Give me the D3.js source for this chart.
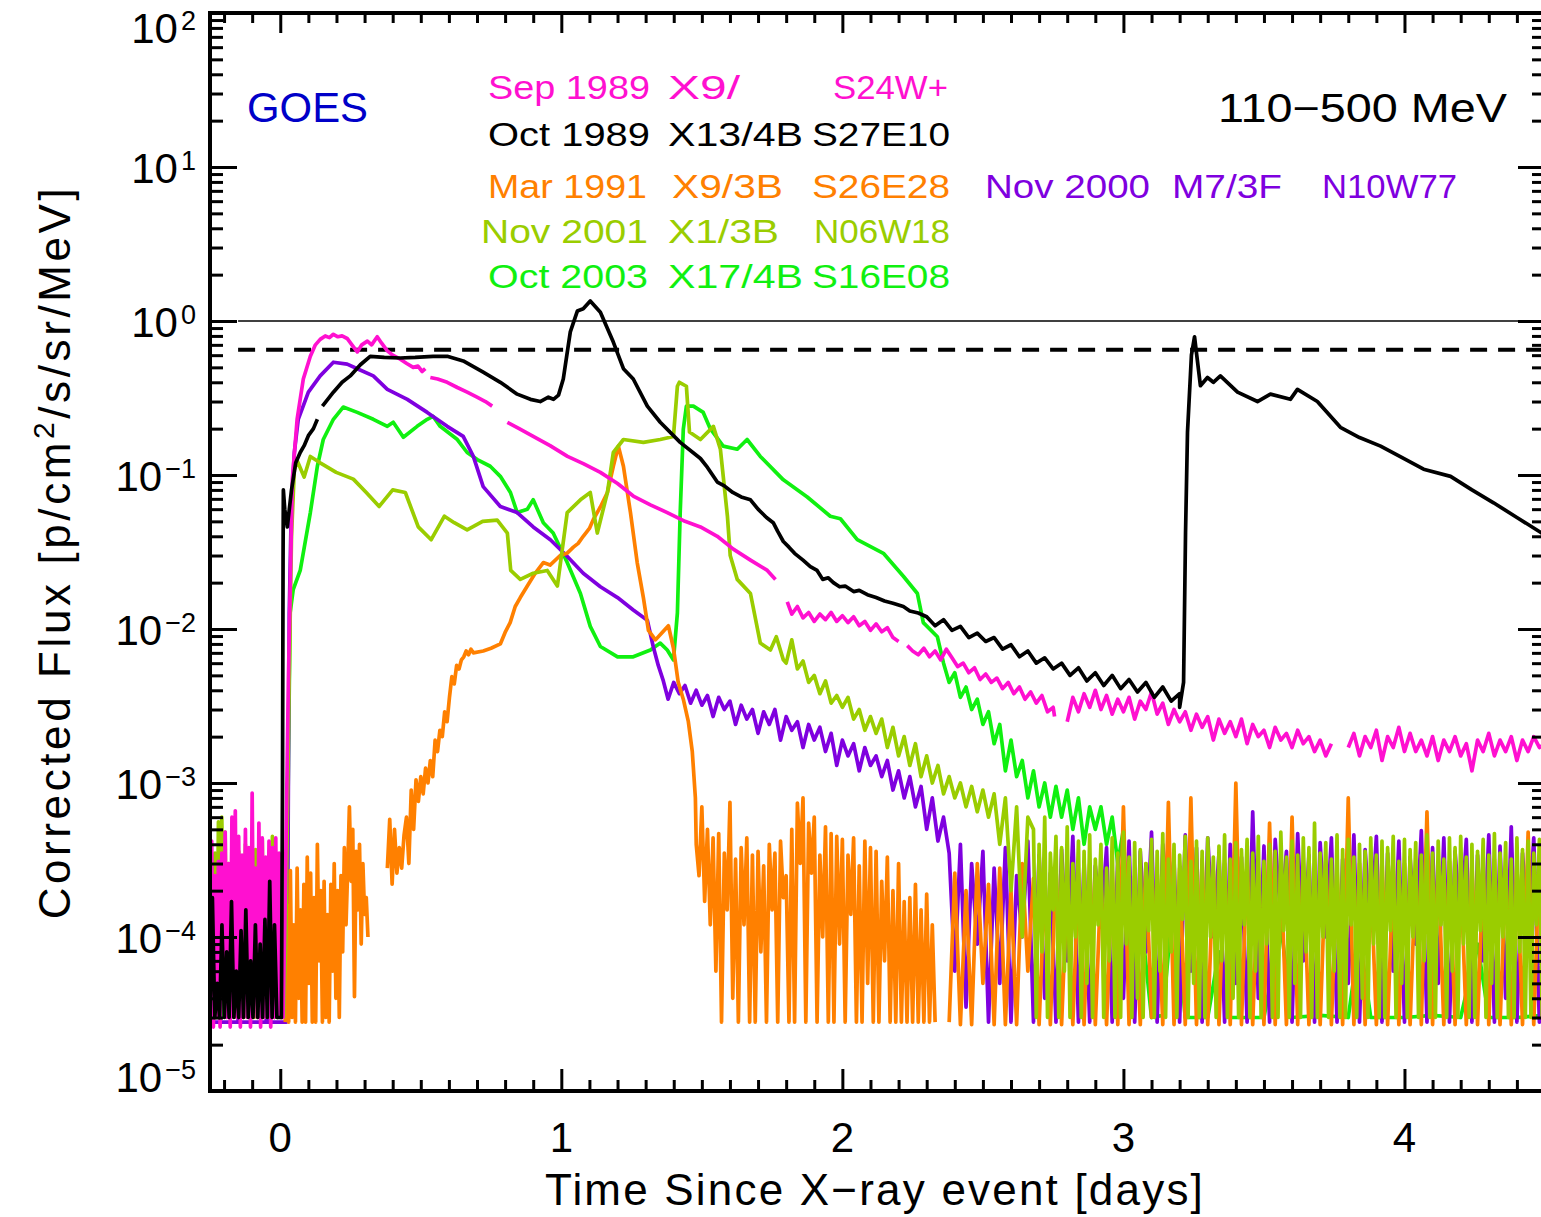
<!DOCTYPE html>
<html>
<head>
<meta charset="utf-8">
<script src="https://cdn.jsdelivr.net/npm/d3@7"></script>
<style>
  body { margin: 0; background: #fff; }
  text { font-family: "Liberation Sans", Arial, sans-serif; }
</style>
</head>
<body>
<div id="container"></div>
<script>
//軸の目盛り
var xTicks = [0, 1, 2, 3, 4];
var yTicks = [1e-5, 1e-4, 1e-3, 1e-2, 1e-1, 1, 10, 100];
var yExp = ["\u22125", "\u22124", "\u22123", "\u22122", "\u22121", "0", "1", "2"];

//基準レベル
var solidLevel = 1.0;
var dashLevel = 0.65;

//イベント名
var eventNames = ["Sep 1989", "Oct 1989", "Mar 1991", "Nov 2000", "Nov 2001", "Oct 2003"];
var flareClass = ["X9/", "X13/4B", "X9/3B", "M7/3F", "X1/3B", "X17/4B"];
var flareLoc = ["S24W+", "S27E10", "S26E28", "N10W77", "N06W18", "S16E08"];
var colors = ["#ff10d0", "#000000", "#ff8000", "#7f00df", "#9acd00", "#10f010"];

//等間隔サンプリングの区間
function grid(t0, dt, vals) {
  return vals.map(function(v, i) {
    return [+(t0 + i * dt).toFixed(4), v];
  });
}

// Sep 1989 (segments split at data gaps)
var sep89 = [
  grid(-0.25, 0.006, [3e-5, 4.2e-4, 2.6e-5, 2.5e-4, 3e-5, 3.1e-4, 2.6e-5, 3.5e-4, 4e-5, 4.8e-4, 3e-5, 3e-4, 2.6e-5, 6e-4, 5e-5, 6.6e-4, 3e-5, 4.5e-4, 2.6e-5, 3.4e-4, 6e-5, 5e-4, 3e-5, 3.8e-4, 2.6e-5, 8.6e-4, 4e-5, 2.8e-4, 3e-5, 5.5e-4, 2.6e-5, 4.4e-4, 3e-5, 3.3e-4, 5e-5, 4.2e-4, 2.6e-5, 3.8e-4, 3e-5, 4.4e-4, 3e-5, 3.5e-4, 3e-5])
    .concat([[0.01, 3e-5], [0.018, 2e-4], [0.029, 0.0047], [0.043, 0.094], [0.06, 0.23], [0.082, 0.42], [0.107, 0.59], [0.125, 0.7], [0.142, 0.76], [0.16, 0.8], [0.175, 0.78], [0.189, 0.82], [0.205, 0.79], [0.22, 0.8], [0.238, 0.77], [0.255, 0.7], [0.274, 0.63], [0.29, 0.7], [0.31, 0.74], [0.325, 0.7], [0.345, 0.79], [0.36, 0.72], [0.381, 0.64], [0.4, 0.6], [0.427, 0.565], [0.45, 0.53], [0.473, 0.5], [0.49, 0.51], [0.505, 0.47], [0.516, 0.49]]),
  [[0.534, 0.43], [0.56, 0.42], [0.594, 0.4], [0.63, 0.37], [0.665, 0.345], [0.7, 0.32], [0.73, 0.3], [0.754, 0.28]],
  [[0.808, 0.22], [0.85, 0.2], [0.9, 0.178], [0.96, 0.155], [1.022, 0.132], [1.08, 0.118], [1.139, 0.104], [1.2, 0.088], [1.256, 0.073], [1.317, 0.064], [1.377, 0.057], [1.44, 0.05], [1.495, 0.046], [1.555, 0.04], [1.612, 0.033], [1.673, 0.028], [1.733, 0.024], [1.762, 0.021]],
  [[1.804, 0.015], [1.82, 0.0125], [1.84, 0.014], [1.86, 0.0118], [1.88, 0.0128], [1.9, 0.0112], [1.92, 0.0125], [1.94, 0.0115], [1.96, 0.0128], [1.98, 0.0112], [2.0, 0.0122], [2.02, 0.011], [2.04, 0.012], [2.06, 0.0105], [2.08, 0.0112], [2.1, 0.0098], [2.12, 0.0108], [2.14, 0.0096], [2.16, 0.0102], [2.18, 0.0088], [2.2, 0.0083]],
  [[2.231, 0.0078], [2.25, 0.0072], [2.27, 0.0068], [2.29, 0.0075], [2.31, 0.0066], [2.33, 0.0072], [2.35, 0.0063], [2.37, 0.0074], [2.39, 0.0065], [2.41, 0.0057], [2.43, 0.006], [2.45, 0.0052], [2.47, 0.0056], [2.49, 0.0047], [2.51, 0.0051], [2.53, 0.0045], [2.55, 0.0048], [2.57, 0.0041], [2.59, 0.0045], [2.61, 0.0038], [2.63, 0.0042], [2.65, 0.0035], [2.67, 0.0039], [2.69, 0.0033], [2.71, 0.0037], [2.73, 0.0029], [2.75, 0.0031], [2.755, 0.0027]],
  grid(2.80, 0.02, [0.0025, 0.0036, 0.0029, 0.0038, 0.0031, 0.0040, 0.0030, 0.0037, 0.0028, 0.0035, 0.0029, 0.0036, 0.0026, 0.0034, 0.0030, 0.0039, 0.0028, 0.0033, 0.0024, 0.0030, 0.0025, 0.0029, 0.0022, 0.0028, 0.0023, 0.0027, 0.0019, 0.0026, 0.0021, 0.0025, 0.0020, 0.0026, 0.0018, 0.0024, 0.0020, 0.0022, 0.0017, 0.0023, 0.0019, 0.0021, 0.0017, 0.0022, 0.0018, 0.0020, 0.0016, 0.0019, 0.0015, 0.0018]),
  grid(3.80, 0.02, [0.0017, 0.0021, 0.0015, 0.0020, 0.0017, 0.0022, 0.0014, 0.0020, 0.0017, 0.0023, 0.0016, 0.0021, 0.0016, 0.0019, 0.0015, 0.0020, 0.0014, 0.0019, 0.0016, 0.0020, 0.0015, 0.0018, 0.0012, 0.0019, 0.0016, 0.0021, 0.0015, 0.0019, 0.0016, 0.0020, 0.0014, 0.0019, 0.0016, 0.0020, 0.0017, 0.0018])
];

// Oct 1989
var oct89 = [
  grid(-0.25, 0.0085, [3e-5, 1.8e-4, 3e-5, 5e-5, 3e-5, 1.2e-4, 3e-5, 8e-5, 3e-5, 1.7e-4, 3e-5, 6e-5, 3e-5, 1.1e-4, 3e-5, 1.5e-4, 3e-5, 7e-5, 3e-5, 1.2e-4, 3e-5, 9e-5, 3e-5, 1.3e-4, 3e-5, 2.3e-4, 3e-5, 1.2e-4, 3e-5, 3e-5])
    .concat([[0.004, 3e-5], [0.008, 1e-3], [0.01, 0.03], [0.011, 0.08], [0.016, 0.06], [0.025, 0.046], [0.04, 0.08], [0.055, 0.12], [0.071, 0.14], [0.085, 0.155], [0.1, 0.18], [0.118, 0.2], [0.132, 0.23]]),
  [[0.15, 0.28], [0.189, 0.345], [0.22, 0.4], [0.249, 0.44], [0.285, 0.52], [0.32, 0.59], [0.37, 0.58], [0.427, 0.575], [0.48, 0.58], [0.544, 0.59], [0.594, 0.59], [0.651, 0.55], [0.722, 0.465], [0.783, 0.4], [0.843, 0.335], [0.89, 0.31], [0.925, 0.3], [0.954, 0.32], [0.972, 0.31], [0.99, 0.33], [1.007, 0.42], [1.032, 0.85], [1.057, 1.16], [1.078, 1.2], [1.103, 1.35], [1.139, 1.14], [1.185, 0.73], [1.221, 0.49], [1.256, 0.42], [1.306, 0.28], [1.352, 0.22], [1.423, 0.163], [1.495, 0.128], [1.52, 0.112], [1.555, 0.09], [1.58, 0.085], [1.61, 0.077], [1.64, 0.072], [1.673, 0.069], [1.7, 0.06], [1.73, 0.053], [1.754, 0.049], [1.77, 0.043], [1.79, 0.037], [1.81, 0.034], [1.83, 0.031], [1.86, 0.028], [1.886, 0.0254], [1.91, 0.024], [1.93, 0.021], [1.95, 0.0215], [1.968, 0.02], [1.99, 0.0188], [2.01, 0.019], [2.04, 0.0175], [2.06, 0.0178], [2.089, 0.0167], [2.12, 0.016], [2.15, 0.0152], [2.18, 0.0147], [2.217, 0.014], [2.24, 0.0131], [2.27, 0.0127]]
    .concat(grid(2.30, 0.03, [0.012, 0.0105, 0.0115, 0.0098, 0.0104, 0.0088, 0.0094, 0.0083, 0.0088, 0.0074, 0.0079, 0.0066, 0.0072, 0.006, 0.0065, 0.0055, 0.006, 0.005, 0.0056, 0.0046, 0.0052, 0.0043, 0.005, 0.0041, 0.0047, 0.0039, 0.0045, 0.0036, 0.0042, 0.0034, 0.0038]))
    .concat([[3.2, 0.0031], [3.214, 0.0045], [3.221, 0.042], [3.228, 0.19], [3.242, 0.6], [3.253, 0.79], [3.274, 0.38], [3.299, 0.43], [3.32, 0.4], [3.345, 0.44], [3.406, 0.345], [3.477, 0.3], [3.523, 0.335], [3.594, 0.31], [3.619, 0.36], [3.69, 0.3], [3.772, 0.204], [3.84, 0.175], [3.915, 0.154], [3.99, 0.13], [4.068, 0.109], [4.164, 0.098], [4.24, 0.08], [4.317, 0.066], [4.4, 0.053], [4.488, 0.042], [4.5, 0.04]])
];

// Mar 1991
var mar91 = [
  grid(0.018, 0.006, [2.8e-5, 1.6e-4, 2.8e-5, 2.7e-4, 3e-5, 1.2e-4, 2.8e-5, 2.8e-4, 4e-5, 1.5e-4, 2.8e-5, 2.2e-4, 2.8e-5, 3.3e-4, 5e-5, 2.6e-4, 2.8e-5, 1.8e-4, 2.8e-5, 4e-4, 7e-5, 2e-4, 2.8e-5, 2.3e-4, 3e-5, 1.4e-4, 2.8e-5, 2.2e-4, 6e-5, 3e-4, 4e-5, 2e-4, 3e-5, 2.5e-4, 8e-5, 3.8e-4, 1.2e-4, 2.8e-4, 7e-4, 2.3e-4, 5e-4, 4.1e-5, 3.6e-4, 1.5e-4, 4e-4, 9e-5, 3e-4, 1.4e-4, 1.8e-4, 1e-4]),
  grid(0.381, 0.0085, [2.8e-4, 5.8e-4, 2.2e-4, 5e-4, 2.6e-4, 3.8e-4, 2.8e-4, 4.6e-4, 6e-4, 3e-4, 9e-4, 5e-4, 1.05e-3, 7.6e-4, 1.1e-3, 8.5e-4, 1.25e-3, 1e-3, 1.4e-3, 1.1e-3, 1.9e-3, 1.6e-3, 2.2e-3, 2e-3, 2.9e-3, 2.5e-3, 3.6e-3, 4.9e-3, 4.4e-3, 5.8e-3, 5.5e-3, 6.3e-3, 6.6e-3, 7.2e-3, 6.8e-3, 7.4e-3, 7e-3])
    .concat([[0.722, 0.0072], [0.75, 0.0075], [0.783, 0.008], [0.8, 0.0095], [0.818, 0.011], [0.836, 0.014], [0.854, 0.016], [0.879, 0.019], [0.907, 0.023], [0.936, 0.027], [0.96, 0.026], [0.996, 0.03], [1.02, 0.031], [1.043, 0.034], [1.06, 0.036], [1.078, 0.04], [1.1, 0.045], [1.114, 0.0515], [1.139, 0.062], [1.164, 0.077], [1.185, 0.114], [1.203, 0.154], [1.221, 0.114], [1.246, 0.057], [1.27, 0.027], [1.292, 0.016], [1.31, 0.0098], [1.335, 0.0085], [1.359, 0.0095], [1.381, 0.0105], [1.399, 0.0075], [1.416, 0.0045], [1.434, 0.0035], [1.452, 0.0025], [1.466, 0.0016], [1.477, 8e-4]])
    .concat(grid(1.48, 0.01, [4e-4, 2.5e-4, 7e-4, 1.7e-4, 5e-4, 1.2e-4, 4.4e-4, 6e-5, 4.7e-4, 2.8e-5, 3.5e-4, 1.5e-4, 7.5e-4, 4e-5, 3.2e-4, 2.8e-5, 3.8e-4, 1.2e-4, 4.4e-4, 2.8e-5, 3.4e-4, 2.8e-5, 3.6e-4, 8e-5, 2.9e-4, 2.8e-5, 4e-4, 1.5e-4, 3.5e-4, 2.8e-5, 4.2e-4, 1.8e-4, 2.5e-4, 2.8e-5, 5e-4, 2.8e-5, 7.4e-4, 3e-4, 8e-4, 2.8e-5, 5.5e-4, 2.6e-4, 6e-4, 2.8e-5, 3.4e-4, 1e-4, 5.2e-4, 2.8e-5, 4.7e-4, 2.8e-5, 4.5e-4, 9e-5, 4.3e-4, 2.8e-5, 3.4e-4, 1.4e-4, 4.4e-4, 2.8e-5, 2.9e-4, 2.8e-5, 4.2e-4, 5e-5, 3.8e-4, 2.8e-5, 3.6e-4, 2.8e-5, 2.3e-4, 7e-5, 3.3e-4, 2.8e-5, 2e-4, 2.8e-5, 3e-4, 2.8e-5, 1.7e-4, 2.8e-5, 1.8e-4, 2.8e-5, 2.2e-4, 2.8e-5, 1.5e-4, 2.8e-5, 1.9e-4, 2.8e-5, 1.2e-4, 2.8e-5])),
  grid(2.38, 0.02, [2.8e-5, 2.6e-4, 2.7e-5, 2e-4, 2.7e-5, 3e-4, 5e-5, 2.2e-4, 2.7e-5, 2.8e-4, 2.7e-5, 2e-4, 2.7e-5, 3e-4, 6e-5, 2.4e-4, 2.7e-5, 2.2e-4, 2.7e-5, 2.8e-4, 2.7e-5, 2.2e-4, 2.7e-5, 2.6e-4, 2.7e-5, 3e-4, 2.7e-5, 2.3e-4, 2.7e-5, 2.7e-4, 2.7e-5, 7e-4, 2.7e-5, 2.5e-4, 2.7e-5, 3e-4, 3e-5, 2.6e-4, 2.7e-5, 7.5e-4, 2.7e-5, 2.8e-4, 2.7e-5, 8e-4, 2.7e-5, 3.2e-4, 2.7e-5, 2.7e-4, 2.7e-5, 3e-4, 2.7e-5, 1e-3, 2.7e-5, 3.2e-4, 2.7e-5, 2.8e-4, 2.7e-5, 5.5e-4, 2.7e-5, 2.9e-4, 2.7e-5, 6e-4, 2.7e-5, 3e-4, 2.7e-5, 2.6e-4, 2.7e-5, 3.1e-4, 2.7e-5, 2.8e-4, 2.7e-5, 8e-4, 2.7e-5, 3e-4, 2.7e-5, 2.6e-4, 2.7e-5, 3.2e-4, 2.7e-5, 2.7e-4, 2.7e-5, 3e-4, 2.7e-5, 2.8e-4, 2.7e-5, 6.5e-4, 2.7e-5, 2.9e-4, 2.7e-5, 3.1e-4, 2.7e-5, 2.6e-4, 2.7e-5, 3e-4, 2.7e-5, 2.8e-4, 2.7e-5, 3.2e-4, 2.7e-5, 2.7e-4, 2.7e-5, 3e-4, 2.7e-5, 4.8e-4, 2.7e-5, 3.3e-4, 2.7e-5])
];

// Nov 2000
var nov00 = [
  [[-0.25, 2.8e-5], [-0.15, 2.8e-5], [-0.148, 9e-5], [-0.146, 2.8e-5], [-0.05, 2.8e-5], [-0.048, 1.2e-4], [-0.046, 2.8e-5], [0.022, 2.8e-5], [0.026, 1e-4], [0.032, 0.0127], [0.039, 0.057], [0.05, 0.14], [0.064, 0.23], [0.1, 0.345], [0.142, 0.44], [0.189, 0.54], [0.238, 0.525], [0.274, 0.49], [0.331, 0.44], [0.381, 0.36], [0.452, 0.31], [0.523, 0.255], [0.594, 0.207], [0.651, 0.178], [0.687, 0.132], [0.722, 0.084], [0.783, 0.0625], [0.843, 0.057], [0.9, 0.046], [0.961, 0.038], [1.018, 0.03], [1.078, 0.023], [1.139, 0.0188], [1.2, 0.016], [1.256, 0.0133], [1.306, 0.0114], [1.327, 0.0077], [1.345, 0.0058], [1.363, 0.0046]]
    .concat(grid(1.38, 0.02, [0.0035, 0.0045, 0.0038, 0.0043, 0.0033, 0.004, 0.0032, 0.0037, 0.0027, 0.0036, 0.003, 0.0034, 0.0024, 0.0032, 0.0026, 0.003, 0.0021, 0.0029, 0.0024, 0.003, 0.0019, 0.0027, 0.0022, 0.0025, 0.0017, 0.0024, 0.0019, 0.0023, 0.0016, 0.0021, 0.0013, 0.0019, 0.0015, 0.0018, 0.0012, 0.0017, 0.0013, 0.0015, 0.0011, 0.0014, 0.0009, 0.0012, 0.0008, 0.0011, 0.0007, 0.00095, 0.0005, 0.0008, 0.00042, 0.0006]))
    .concat(grid(2.38, 0.02, [3.5e-4, 6e-5, 4e-4, 3.5e-5, 3e-4, 9e-5, 3.6e-4, 2.8e-5, 2.8e-4, 5e-5, 3.8e-4, 2.8e-5, 2.5e-4, 1e-4, 4.2e-4, 2.8e-5, 3.4e-4, 4e-5, 2.6e-4, 2.8e-5, 3.7e-4, 7e-5, 4.5e-4, 2.8e-5, 3.1e-4, 2.8e-5, 2.9e-4, 1.2e-4, 3.8e-4, 2.8e-5, 3.3e-4, 4e-5, 4.2e-4, 2.8e-5, 3.6e-4, 8e-5, 4.8e-4, 2.8e-5, 4e-4, 1.5e-4, 3.2e-4, 2.8e-5, 4.6e-4, 6e-5, 3.8e-4, 2.8e-5, 4.4e-4, 1e-4, 3.5e-4, 2.8e-5, 4e-4, 5e-5, 3.3e-4, 2.8e-5, 6.5e-4, 4e-5, 3.9e-4, 2.8e-5, 4.3e-4, 1.3e-4, 3.6e-4, 2.8e-5, 4.7e-4, 7e-5, 3.4e-4, 2.8e-5, 4.1e-4, 1e-4, 4.4e-4, 2.8e-5, 3.2e-4, 5e-5, 4.6e-4, 2.8e-5, 3.7e-4, 1.1e-4, 4.5e-4, 2.8e-5, 3.5e-4, 6e-5, 4.2e-4, 2.8e-5, 3.3e-4, 9e-5, 4.9e-4, 2.8e-5, 3.8e-4, 5e-5, 4.4e-4, 2.8e-5, 3.6e-4, 1.2e-4, 4.3e-4, 2.8e-5, 3.4e-4, 7e-5, 4.6e-4, 2.8e-5, 3.9e-4, 4e-5, 5.2e-4, 2.8e-5, 3.5e-4, 1e-4, 4.4e-4, 2.8e-5, 3.2e-4]))
];

// Nov 2001
var nov01 = [
  grid(-0.25, 0.006, [3e-5, 2.5e-4, 3e-5, 3.5e-4, 4e-5, 5.6e-4, 3e-5, 6e-4, 1e-4, 4.8e-4, 3e-5, 3e-4, 3e-5, 4.2e-4, 6e-5, 2.7e-4, 3e-5, 3.6e-4, 3e-5, 2.2e-4, 3e-5, 4e-4, 7e-5, 3.2e-4, 3e-5, 2.6e-4, 3e-5, 3.7e-4, 3e-5, 3e-4, 5e-5, 4.3e-4, 3e-5, 2.4e-4, 3e-5, 3.6e-4, 3e-5, 4.5e-4, 3e-5, 3.5e-4, 3e-5, 2.6e-4, 3e-5])
    .concat([[0.012, 3e-5], [0.02, 1e-4], [0.03, 3e-3], [0.04, 0.04], [0.05, 0.108], [0.061, 0.123], [0.085, 0.097], [0.107, 0.132], [0.142, 0.12], [0.199, 0.104], [0.26, 0.094], [0.306, 0.077], [0.352, 0.0625], [0.4, 0.08], [0.445, 0.077], [0.491, 0.046], [0.537, 0.038], [0.584, 0.054], [0.619, 0.049], [0.665, 0.044], [0.72, 0.05], [0.772, 0.051], [0.808, 0.042], [0.82, 0.024], [0.854, 0.021], [0.9, 0.023], [0.95, 0.024], [0.986, 0.019], [1.021, 0.057], [1.068, 0.069], [1.103, 0.077], [1.128, 0.042], [1.164, 0.077], [1.185, 0.14], [1.221, 0.17], [1.292, 0.163], [1.352, 0.17], [1.399, 0.178], [1.413, 0.377], [1.42, 0.4], [1.445, 0.377], [1.456, 0.19], [1.495, 0.17], [1.541, 0.207], [1.566, 0.147], [1.591, 0.054], [1.601, 0.03], [1.626, 0.021], [1.673, 0.017], [1.708, 0.0081], [1.744, 0.0073], [1.765, 0.0089], [1.79, 0.0063]])
    .concat(grid(1.80, 0.02, [0.006, 0.0085, 0.0055, 0.0062, 0.0045, 0.005, 0.0038, 0.0046, 0.0033, 0.0037, 0.0031, 0.0036, 0.0026, 0.003, 0.0022, 0.0027, 0.0021, 0.0026, 0.0017, 0.0023, 0.0015, 0.002, 0.0013, 0.0018, 0.0011, 0.0015, 0.001, 0.0013, 0.00085, 0.0011, 0.0008, 0.001, 0.0007, 0.00095, 0.00065, 0.0009, 0.0006, 0.00085, 0.0004, 0.0008, 0.0002, 0.0007, 0.0001, 0.0006]))
    .concat(grid(2.68, 0.01, [5e-4, 3e-5, 4e-4, 8e-5, 6e-4, 3e-5, 3.5e-4, 1.5e-4, 4.5e-4, 3e-5,
      3.8e-4, 6e-5, 5.2e-4, 3e-5, 3e-4, 1e-4, 4.2e-4, 3e-5, 3.6e-4, 5e-5,
      4.6e-4, 3e-5, 3.2e-4, 1.2e-4, 4e-4, 3e-5, 2.8e-4, 7e-5, 4.4e-4, 3e-5,
      3.5e-4, 3e-5, 4.8e-4, 9e-5, 3.3e-4, 3e-5, 4.1e-4, 4e-5, 3.7e-4, 3e-5,
      3e-4, 1.1e-4, 4.3e-4, 3e-5, 3.6e-4, 6e-5, 4.7e-4, 3e-5, 3.2e-4, 8e-5,
      4e-4, 3e-5, 3.4e-4, 1.3e-4, 4.5e-4, 3e-5, 3.1e-4, 5e-5, 4.2e-4, 3e-5,
      3.6e-4, 3e-5, 4.4e-4, 1e-4, 3.3e-4, 3e-5, 3.9e-4, 7e-5, 4.6e-4, 3e-5,
      3.2e-4, 4e-5, 4.1e-4, 3e-5, 3.7e-4, 1.2e-4, 4.3e-4, 3e-5, 3.5e-4, 6e-5,
      4.5e-4, 3e-5, 3.1e-4, 9e-5, 4e-4, 3e-5, 3.6e-4, 3e-5, 4.8e-4, 1.1e-4,
      3.3e-4, 3e-5, 4.2e-4, 5e-5, 3.4e-4, 3e-5, 4.4e-4, 8e-5, 3.8e-4, 3e-5,
      5.5e-4, 3e-5, 3.5e-4, 1e-4, 4.1e-4, 3e-5, 3.2e-4, 6e-5, 4.6e-4, 3e-5,
      3.7e-4, 3e-5, 4.3e-4, 1.2e-4, 3.3e-4, 3e-5, 4e-4, 4e-5, 3.6e-4, 3e-5,
      4.4e-4, 9e-5, 3.4e-4, 3e-5, 4.2e-4, 3e-5, 3.8e-4, 1.1e-4, 4.5e-4, 3e-5,
      3.1e-4, 5e-5, 4.3e-4, 3e-5, 3.7e-4, 1e-4, 4.1e-4, 3e-5, 3.4e-4, 7e-5,
      4.6e-4, 3e-5, 3.5e-4, 3e-5, 4.2e-4, 1.2e-4, 3.2e-4, 3e-5, 4.4e-4, 6e-5,
      3.8e-4, 3e-5, 4.5e-4, 9e-5, 3.3e-4, 3e-5, 4e-4, 3e-5, 3.6e-4, 1.1e-4,
      4.3e-4, 3e-5, 3.4e-4, 5e-5, 4.7e-4, 3e-5, 3.5e-4, 1e-4, 4.1e-4, 3e-5,
      3.2e-4, 3e-5, 4.4e-4, 8e-5, 3.7e-4, 3e-5, 4.2e-4, 3e-5, 3.5e-4, 1.2e-4,
      4.3e-4, 3e-5, 3.8e-4]))
];

// Oct 2003
var oct03 = [
  [[-0.25, 3e-5], [-0.243, 2.5e-4], [-0.237, 3e-5], [-0.23, 3.2e-4], [-0.222, 5e-5], [-0.215, 2e-4], [-0.205, 3e-5], [-0.19, 1.5e-4], [-0.175, 3e-5], [-0.16, 2e-4], [-0.14, 3e-5], [-0.12, 1.8e-4], [-0.1, 3e-5], [-0.08, 2.2e-4], [-0.06, 3e-5], [-0.04, 1.6e-4], [-0.02, 3e-5], [0.0, 1.5e-4], [0.015, 3e-5], [0.025, 3e-4], [0.035, 0.0127], [0.046, 0.018], [0.071, 0.024], [0.107, 0.057], [0.132, 0.114], [0.153, 0.17], [0.189, 0.23], [0.224, 0.276], [0.274, 0.255], [0.331, 0.23], [0.381, 0.207], [0.402, 0.22], [0.438, 0.176], [0.487, 0.207], [0.523, 0.23], [0.544, 0.24], [0.569, 0.207], [0.63, 0.17], [0.665, 0.14], [0.701, 0.126], [0.747, 0.114], [0.783, 0.098], [0.819, 0.077], [0.843, 0.057], [0.879, 0.06], [0.9, 0.069], [0.936, 0.049], [0.971, 0.042], [1.021, 0.027], [1.068, 0.017], [1.103, 0.0104], [1.139, 0.0077], [1.2, 0.0066], [1.256, 0.0066], [1.317, 0.0073], [1.352, 0.0081], [1.377, 0.0073], [1.399, 0.0063], [1.413, 0.0127], [1.423, 0.057], [1.434, 0.198], [1.445, 0.28], [1.47, 0.28], [1.505, 0.255], [1.53, 0.2], [1.576, 0.154], [1.626, 0.147], [1.661, 0.17], [1.708, 0.132], [1.79, 0.093], [1.875, 0.072], [1.957, 0.054], [1.993, 0.052], [2.053, 0.038], [2.146, 0.031], [2.217, 0.022], [2.267, 0.017], [2.288, 0.011], [2.338, 0.0089]]
    .concat(grid(2.36, 0.02, [0.006, 0.0045, 0.0052, 0.0036, 0.0042, 0.003, 0.0035, 0.0024, 0.0029, 0.0018, 0.0024, 0.0012, 0.0019, 0.0011, 0.0014, 0.0008, 0.0012, 0.0007, 0.001, 0.0006, 0.00095, 0.0006, 0.0009, 0.0005, 0.0008, 0.0004, 0.0007, 0.0005, 0.0007, 0.0004, 0.0006, 0.0003, 0.0005, 4e-5]))
    .concat([[3.06, 1.5e-4], [3.1, 3e-5], [3.14, 3.1e-5], [3.18, 2e-4], [3.22, 3e-5], [3.3, 3e-5], [3.34, 8e-5], [3.38, 3e-5], [3.5, 3e-5], [3.56, 1.2e-4], [3.6, 3e-5], [3.7, 3.1e-5], [3.8, 3e-5], [3.84, 1e-4], [3.88, 3e-5], [4.0, 3e-5], [4.1, 3.1e-5], [4.2, 3e-5], [4.26, 9e-5], [4.3, 3e-5], [4.4, 3e-5], [4.5, 3.1e-5]])
];

var series = [sep89, oct89, mar91, nov00, nov01, oct03];
var drawOrder = [5, 3, 2, 4, 0, 1];

//枠の大きさ
var width = 1541;
var height = 1217;
var plotL = 210, plotR = 1545, plotT = 13, plotB = 1091;

var svg = d3.select("#container").append("svg")
  .attr("width", width)
  .attr("height", height);

var x = d3.scaleLinear().domain([-0.25, 4.5]).range([plotL, plotR]);
var y = d3.scaleLog().domain([1e-5, 1e2]).range([plotB, plotT]);

svg.append("clipPath").attr("id", "plotclip")
  .append("rect")
  .attr("x", plotL).attr("y", plotT)
  .attr("width", plotR - plotL).attr("height", plotB - plotT);

var plot = svg.append("g").attr("clip-path", "url(#plotclip)");

//基準線
plot.append("line")
  .attr("x1", x(-0.15)).attr("x2", x(4.5))
  .attr("y1", y(solidLevel)).attr("y2", y(solidLevel))
  .attr("stroke", "#000").attr("stroke-width", 1.3);
plot.append("line")
  .attr("x1", x(-0.15)).attr("x2", x(4.5))
  .attr("y1", y(dashLevel)).attr("y2", y(dashLevel))
  .attr("stroke", "#000").attr("stroke-width", 4)
  .attr("stroke-dasharray", "17,11");

var line = d3.line()
  .x(function(d) { return x(d[0]); })
  .y(function(d) { return y(d[1]); });

drawOrder.forEach(function(k) {
  plot.append("g").selectAll("path")
    .data(series[k])
    .enter().append("path")
    .attr("d", line)
    .attr("fill", "none")
    .attr("stroke", colors[k])
    .attr("stroke-width", 3.7)
    .attr("stroke-linejoin", "round");
});

//目盛り
var xMinor = d3.range(-2, 46).map(function(i) { return i / 10; })
  .filter(function(v) { return Math.abs(v - Math.round(v)) > 1e-6; });
var yMinor = [];
for (var e = -5; e < 2; e++) {
  for (var m = 2; m < 10; m++) yMinor.push(m * Math.pow(10, e));
}

function ticks(gen, tr) {
  var g = svg.append("g").attr("transform", tr).call(gen);
  g.select(".domain").remove();
  g.selectAll("text").remove();
  g.selectAll("line").attr("stroke", "#000").attr("stroke-width", 3);
}

ticks(d3.axisTop(x).tickValues(xTicks).tickSize(22), "translate(0," + plotB + ")");
ticks(d3.axisTop(x).tickValues(xMinor).tickSize(11), "translate(0," + plotB + ")");
ticks(d3.axisBottom(x).tickValues(xTicks).tickSize(20), "translate(0," + plotT + ")");
ticks(d3.axisBottom(x).tickValues(xMinor).tickSize(10), "translate(0," + plotT + ")");
ticks(d3.axisRight(y).tickValues(yTicks).tickSize(27), "translate(" + plotL + ",0)");
ticks(d3.axisRight(y).tickValues(yMinor).tickSize(13), "translate(" + plotL + ",0)");
ticks(d3.axisLeft(y).tickValues(yTicks).tickSize(27), "translate(" + plotR + ",0)");
ticks(d3.axisLeft(y).tickValues(yMinor).tickSize(13), "translate(" + plotR + ",0)");

//枠
svg.append("rect")
  .attr("x", plotL).attr("y", plotT)
  .attr("width", plotR - plotL).attr("height", plotB - plotT)
  .attr("fill", "none").attr("stroke", "#000").attr("stroke-width", 4);

//目盛りラベル
svg.selectAll(".xlab").data(xTicks).enter().append("text")
  .attr("class", "xlab")
  .attr("x", function(d) { return x(d); })
  .attr("y", 1152)
  .attr("text-anchor", "middle")
  .attr("font-size", 42)
  .text(function(d) { return d; });

yTicks.forEach(function(v, i) {
  var base = y(v) + 16;
  if (i === yTicks.length - 1) base = y(v) + 30;
  if (i === 0) base = y(v) + 1;
  var t = svg.append("text")
    .attr("x", 196).attr("y", base)
    .attr("text-anchor", "end")
    .attr("font-size", 42);
  t.append("tspan").text("10");
  t.append("tspan").attr("dx", 3).attr("dy", -13).attr("font-size", 27).text(yExp[i]);
});

//軸タイトル
svg.append("text")
  .attr("x", 875).attr("y", 1205)
  .attr("text-anchor", "middle")
  .attr("font-size", 44)
  .attr("letter-spacing", 2.2)
  .text("Time Since X\u2212ray event [days]");

var yt = svg.append("text")
  .attr("transform", "translate(70,552) rotate(-90)")
  .attr("text-anchor", "middle")
  .attr("font-size", 44)
  .attr("letter-spacing", 3.6);
yt.append("tspan").text("Corrected Flux [p/cm");
yt.append("tspan").attr("dy", -16).attr("font-size", 30).text("2");
yt.append("tspan").attr("dy", 16).text("/s/sr/MeV]");

//注釈
svg.append("text")
  .attr("x", 247).attr("y", 122)
  .attr("font-size", 42)
  .attr("fill", "#0000c8")
  .attr("textLength", 121).attr("lengthAdjust", "spacingAndGlyphs")
  .text("GOES");

svg.append("text")
  .attr("x", 1218).attr("y", 122)
  .attr("font-size", 40)
  .attr("textLength", 289).attr("lengthAdjust", "spacingAndGlyphs")
  .text("110\u2212500 MeV");

// legend placement: name [x0,x1], class [x0,x1], location [x0,x1], baseline
var legendPos = [
  [488, 650, 668, 740, 833, 948, 99],
  [488, 650, 668, 803, 812, 950, 146],
  [488, 647, 672, 783, 812, 950, 198],
  [985, 1150, 1172, 1282, 1322, 1457, 198],
  [481, 648, 668, 779, 814, 950, 243],
  [488, 648, 668, 803, 812, 950, 288]
];

eventNames.forEach(function(name, i) {
  var p = legendPos[i];
  var parts = [[name, p[0], p[1]], [flareClass[i], p[2], p[3]], [flareLoc[i], p[4], p[5]]];
  parts.forEach(function(q) {
    svg.append("text")
      .attr("x", q[1]).attr("y", p[6])
      .attr("font-size", 34)
      .attr("fill", colors[i])
      .attr("textLength", q[2] - q[1]).attr("lengthAdjust", "spacingAndGlyphs")
      .text(q[0]);
  });
});
</script>
</body>
</html>
